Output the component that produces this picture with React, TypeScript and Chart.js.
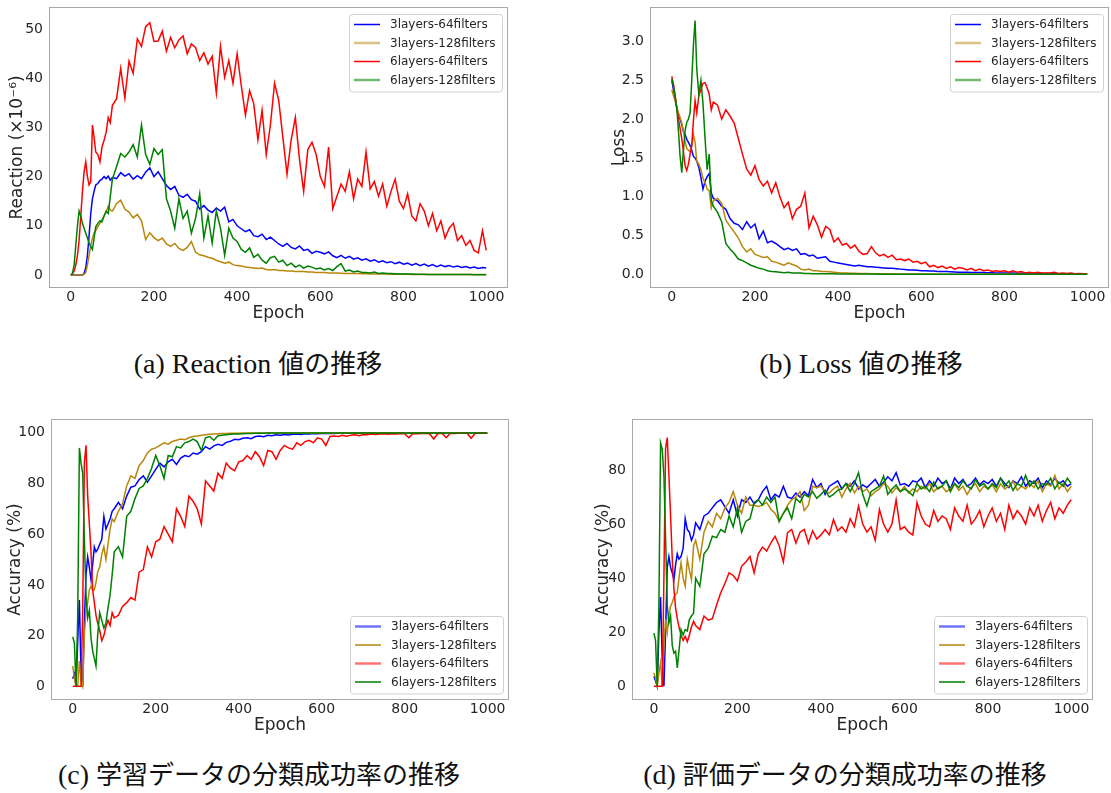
import { useEffect, useRef } from 'react';
import { Chart, registerables } from 'chart.js';

Chart.register(...registerables);
Chart.defaults.font.family = '"DejaVu Sans", sans-serif';

// ---------------- data ----------------
const EPOCHS = [
  0, 4, 8, 12, 16, 20, 24, 28, 32, 36, 40, 44, 48, 52, 56, 60, 65, 70, 75, 80, 85, 90, 95, 100,
  110, 120, 130, 140, 150, 160, 170, 180, 190, 200,
  210, 220, 230, 240, 250, 260, 270, 280, 290, 300,
  310, 320, 330, 340, 350, 360, 370, 380, 390, 400,
  410, 420, 430, 440, 450, 460, 470, 480, 490, 500,
  510, 520, 530, 540, 550, 560, 570, 580, 590, 600,
  610, 620, 630, 640, 650, 660, 670, 680, 690, 700,
  710, 720, 730, 740, 750, 760, 770, 780, 790, 800,
  810, 820, 830, 840, 850, 860, 870, 880, 890, 900,
  910, 920, 930, 940, 950, 960, 970, 980, 990, 999,
];

const SERIES_NAMES = ['3layers-64filters', '3layers-128filters', '6layers-64filters', '6layers-128filters'];

// (a) Reaction (x10^-6)
const REACT_3L64 = [
  0, 0, 0, 0, 0, 0, 0, 0, 0.3, 1.5, 4, 8, 12.5, 15.5, 17, 18.3, 18.6, 19.2, 19.5, 20, 19.6, 20.1, 19.3, 19.8,
  19.6, 20.8, 20.1, 20.6, 19.5, 20.2, 19.6, 20.9, 21.8, 20.0,
  21.0, 19.6, 18.2, 17.4, 18.0, 16.2, 15.8, 16.4, 15.3, 15.0,
  13.4, 14.1, 13.2, 12.7, 13.6, 13.0, 13.8, 10.8, 11.3, 10.0,
  9.4, 8.8, 9.2, 8.0, 7.8, 8.3, 7.2, 7.7, 7.0, 6.3,
  5.8, 6.4, 5.6, 5.3, 5.9, 5.0, 5.2, 4.4, 4.8, 4.6,
  4.3, 4.7, 3.9, 3.5, 4.0, 3.4, 3.8, 3.2, 3.5, 3.0,
  3.3, 2.8, 3.1, 2.6, 2.9, 2.5, 2.7, 2.3, 2.6, 2.2,
  2.4, 2.0, 2.3, 1.9, 2.2, 1.8, 2.1, 1.7, 2.0, 1.7,
  1.9, 1.6, 1.8, 1.5, 1.7, 1.4, 1.6, 1.3, 1.5, 1.4,
];
const REACT_3L128 = [
  0, 0, 0, 0, 0, 0, 0, 0, 0.1, 0.5, 2, 4, 6, 7.5, 8.5, 9, 9.8, 10.5, 11.2, 12, 12.8, 14, 13.2, 13,
  14.5, 15.2, 13.4, 12.8, 11.6, 12.3, 11, 7.2, 8.6, 7.6,
  7.0, 7.5, 6.3, 5.8, 6.4, 5.4, 5.0, 5.6, 6.8, 4.6,
  4.1, 3.9, 3.6, 3.4, 3.0, 2.7, 2.4, 2.6, 2.1, 1.9,
  1.8, 1.6, 1.5, 1.4, 1.3, 1.4, 1.1, 1.0, 1.1, 0.9,
  0.9, 0.8, 0.8, 0.7, 0.7, 0.7, 0.6, 0.6, 0.5, 0.5,
  0.5, 0.4, 0.4, 0.4, 0.35, 0.3, 0.3, 0.3, 0.3, 0.25,
  0.25, 0.2, 0.2, 0.2, 0.2, 0.2, 0.15, 0.15, 0.15, 0.15,
  0.15, 0.1, 0.1, 0.1, 0.1, 0.1, 0.1, 0.1, 0.1, 0.1,
  0.1, 0.1, 0.08, 0.08, 0.08, 0.08, 0.07, 0.07, 0.07, 0.07,
];
const REACT_6L64 = [
  0, 0.2, 0.8, 2, 4, 7, 12, 17, 21, 23, 20, 18.3, 19, 30.5, 28, 25, 24.5, 23, 26, 27.4, 29, 32, 31, 34.5,
  35.8, 42, 36, 43.5, 41, 48, 46.5, 50.5, 51.3, 47.5,
  47.6, 49.6, 45.5, 48.3, 46.2, 47.8, 48.6, 45.0, 47.0, 46.3,
  43.6, 45.2, 42.9, 44.5, 37.0, 46.5, 40.2, 43.6, 39.0, 45.0,
  38.5, 32.5, 37.5, 34.8, 27.5, 33.5, 24.5, 30.5, 39.0, 35.5,
  28.0, 20.5, 27.5, 32.0, 23.5, 17.0, 25.5, 27.0, 24.5, 20.0,
  18.0, 26.0, 13.5, 16.0, 18.5, 17.0, 21.0, 15.5, 19.5, 18.0,
  25.0, 17.5, 19.0, 16.0, 18.5, 14.0, 17.0, 19.5, 15.0, 13.5,
  16.5, 12.0, 11.0, 14.5, 13.0, 10.0, 12.5, 9.0, 11.0, 7.5,
  9.5, 10.5, 7.0, 8.0, 6.0, 7.0, 5.0, 4.5, 9.0, 5.0,
];
const REACT_6L128 = [
  0, 0.3, 2, 6, 10, 13, 12, 10.5, 9.5, 8.5, 7.5, 6.5, 5.8, 5.2, 7.5, 9.8, 10.5, 11, 10.8, 12, 13, 12.5, 16, 19.5,
  22, 24.7, 24, 25, 26.5, 24, 30.5, 24.5, 22.5, 25.7,
  24.5, 25.5, 15.5, 13, 9.5, 15.5, 11.5, 13, 8.5, 11.5,
  16.5, 7.5, 12, 6.5, 13, 9.5, 4, 9.5, 7.5, 6.8,
  5.2, 4.6, 5.5, 3.6, 4.2, 3.0, 2.4, 3.5, 3.8, 2.6,
  3.0, 1.9, 2.4, 1.6, 2.0, 1.4, 1.8, 1.6, 1.2, 1.4,
  1.0, 1.3, 0.9, 1.7, 2.3, 0.8, 1.0, 0.6, 0.8, 0.5,
  0.5, 0.4, 0.6, 0.3, 0.4, 0.3, 0.3, 0.25, 0.2, 0.2,
  0.2, 0.2, 0.15, 0.15, 0.15, 0.1, 0.1, 0.1, 0.1, 0.1,
  0.1, 0.08, 0.08, 0.08, 0.07, 0.07, 0.06, 0.06, 0.06, 0.05,
];

// (b) Loss
const LOSS_3L64 = [
  2.5, 2.38, 2.26, 2.14, 2.06, 2.0, 1.93, 1.84, 1.8, 1.74, 1.7, 1.66, 1.6, 1.52, 1.5, 1.46, 1.38, 1.25, 1.1, 1.2, 1.26, 1.3, 1.05, 0.98,
  0.95, 0.88, 0.84, 0.72, 0.66, 0.64, 0.58, 0.68, 0.6, 0.65,
  0.46, 0.56, 0.41, 0.43, 0.4, 0.36, 0.32, 0.34, 0.31, 0.33,
  0.26, 0.27, 0.24, 0.25, 0.21, 0.22, 0.23, 0.17, 0.16, 0.15,
  0.14, 0.13, 0.12, 0.11, 0.12, 0.11, 0.1, 0.1, 0.095, 0.09,
  0.085, 0.08, 0.08, 0.075, 0.07, 0.065, 0.06, 0.06, 0.055, 0.05,
  0.05, 0.045, 0.045, 0.04, 0.04, 0.038, 0.035, 0.033, 0.03, 0.03,
  0.03, 0.028, 0.027, 0.025, 0.025, 0.023, 0.022, 0.021, 0.02, 0.02,
  0.02, 0.019, 0.018, 0.017, 0.017, 0.016, 0.015, 0.015, 0.014, 0.014,
  0.013, 0.013, 0.012, 0.012, 0.012, 0.011, 0.011, 0.01, 0.01, 0.01,
];
const LOSS_3L128 = [
  2.38, 2.3, 2.24, 2.15, 2.08, 2.02, 1.95, 1.85, 1.72, 1.62, 1.6, 1.58, 1.66, 1.8, 1.7, 1.46, 1.42, 1.35, 1.24, 1.18, 1.1, 1.08, 0.86, 0.95,
  0.98, 0.92, 0.7, 0.62, 0.55, 0.47, 0.36, 0.29, 0.33, 0.26,
  0.24, 0.22, 0.23, 0.17, 0.16, 0.14, 0.12, 0.15, 0.13, 0.11,
  0.07, 0.06, 0.07, 0.05, 0.05, 0.04, 0.04, 0.035, 0.03, 0.025,
  0.02, 0.02, 0.018, 0.016, 0.015, 0.014, 0.013, 0.012, 0.011, 0.01,
  0.01, 0.009, 0.009, 0.008, 0.008, 0.008, 0.007, 0.007, 0.007, 0.006,
  0.006, 0.006, 0.006, 0.005, 0.005, 0.005, 0.005, 0.005, 0.005, 0.005,
  0.005, 0.004, 0.004, 0.004, 0.004, 0.004, 0.004, 0.004, 0.004, 0.004,
  0.004, 0.004, 0.003, 0.003, 0.003, 0.003, 0.003, 0.003, 0.003, 0.003,
  0.003, 0.003, 0.003, 0.003, 0.003, 0.003, 0.003, 0.003, 0.003, 0.003,
];
const LOSS_6L64 = [
  2.55, 2.45, 2.3, 2.14, 2.0, 1.88, 1.75, 1.58, 1.4, 1.34, 1.42, 1.55, 1.66, 1.98, 2.24, 2.08, 2.3, 2.38, 2.46, 2.47, 2.4, 2.32, 2.12, 2.22,
  2.18, 2.0, 2.12, 2.04, 1.95, 1.75, 1.55, 1.36, 1.28, 1.4,
  1.22, 1.14, 1.2, 1.05, 1.18, 1.0, 0.86, 0.93, 0.72, 0.84,
  0.88, 1.05, 0.6, 0.75, 0.64, 0.48, 0.62, 0.58, 0.42, 0.47,
  0.38, 0.4, 0.34, 0.38, 0.3, 0.26, 0.27, 0.36, 0.28, 0.24,
  0.26, 0.22, 0.25, 0.19, 0.2, 0.18, 0.2, 0.16, 0.17, 0.14,
  0.16, 0.1, 0.12, 0.09, 0.11, 0.08, 0.1, 0.07, 0.09, 0.08,
  0.06, 0.08, 0.05, 0.07, 0.05, 0.06, 0.04, 0.05, 0.04, 0.05,
  0.03, 0.05, 0.03, 0.04, 0.02, 0.03, 0.02, 0.03, 0.02, 0.02,
  0.02, 0.03, 0.015, 0.02, 0.015, 0.02, 0.01, 0.015, 0.01, 0.01,
];
const LOSS_6L128 = [
  2.52, 2.42, 2.3, 2.15, 1.85, 1.52, 1.31, 1.6, 1.85, 1.96, 2.0, 2.08, 2.5, 2.95, 3.27, 2.65, 2.32, 2.5, 2.2, 1.75, 1.35, 1.55, 0.95, 0.88,
  0.8, 0.68, 0.4, 0.33, 0.27, 0.2, 0.18, 0.15, 0.12, 0.1,
  0.08, 0.07, 0.05, 0.04, 0.035, 0.03, 0.025, 0.03, 0.02, 0.02,
  0.02, 0.015, 0.015, 0.012, 0.012, 0.01, 0.01, 0.01, 0.01, 0.008,
  0.008, 0.008, 0.007, 0.007, 0.007, 0.006, 0.006, 0.006, 0.006, 0.005,
  0.005, 0.005, 0.005, 0.005, 0.005, 0.004, 0.004, 0.004, 0.004, 0.004,
  0.004, 0.004, 0.004, 0.004, 0.003, 0.003, 0.003, 0.003, 0.003, 0.003,
  0.003, 0.003, 0.003, 0.003, 0.003, 0.003, 0.003, 0.003, 0.003, 0.003,
  0.003, 0.003, 0.003, 0.003, 0.003, 0.003, 0.003, 0.003, 0.003, 0.003,
  0.003, 0.003, 0.003, 0.003, 0.003, 0.003, 0.003, 0.003, 0.003, 0.003,
];

// (c) training accuracy (%)
const TRAIN_3L64 = [
  3, 5, 0, 18, 34, 5, 0, 25, 44, 51, 47, 42, 48, 55, 53, 54, 56, 58, 67, 62, 64, 66, 69, 70,
  72.5, 70, 75, 78.5, 79, 81.5, 83, 80.5, 83, 85.5,
  88, 86.5, 88.5, 89.5, 87.5, 90, 91, 90.5, 92, 91.5,
  92.5, 94.5, 93.5, 94.8, 95.4, 95, 96.2, 96.6, 97.4, 97.2,
  97.8, 98, 97.6, 98.5, 98.7, 98.4, 99, 98.8, 99.2, 99,
  99.3, 99.1, 99.4, 99.5, 99.3, 99.6, 99.5, 99.7, 99.6, 99.7,
  99.7, 99.8, 99.7, 99.8, 99.8, 99.8, 99.9, 99.8, 99.9, 99.9,
  99.9, 99.9, 99.9, 99.9, 99.9, 99.9, 99.9, 99.9, 99.9, 99.9,
  99.9, 99.9, 99.9, 99.9, 99.9, 99.9, 99.9, 99.9, 99.9, 99.9,
  99.9, 99.9, 99.9, 99.9, 99.9, 99.9, 99.9, 99.9, 99.9, 99.9,
];
const TRAIN_3L128 = [
  8, 3, 0, 0, 10, 2, 0, 20, 30, 33, 38, 39.5, 38, 38, 41, 45, 47, 52, 55, 50, 56, 62, 66, 65,
  69, 72, 79, 83, 82, 87, 89, 92, 93.5, 94,
  95, 96, 95.5, 96.5, 97, 97.5, 97.2, 98, 98.5, 98.7,
  99, 99.2, 99.4, 99.5, 99.6, 99.7, 99.7, 99.8, 99.8, 99.8,
  99.9, 99.9, 99.9, 99.9, 99.9, 99.9, 99.9, 99.9, 99.9, 99.9,
  99.9, 99.9, 99.9, 99.9, 99.9, 99.9, 99.9, 99.9, 99.9, 99.9,
  99.9, 99.9, 99.9, 99.9, 99.9, 99.9, 99.9, 99.9, 99.9, 99.9,
  99.9, 99.9, 99.9, 99.9, 99.9, 99.9, 99.9, 99.9, 99.9, 99.9,
  99.9, 99.9, 99.9, 99.9, 99.9, 99.9, 99.9, 99.9, 99.9, 99.9,
  99.9, 99.9, 99.9, 99.9, 99.9, 99.9, 99.9, 99.9, 99.9, 99.9,
];
const TRAIN_6L64 = [
  0, 0, 0, 0, 0, 0, 30, 88, 95, 75, 64, 53, 38, 33, 28, 25, 22, 18, 20, 23.5, 26, 24, 29, 27,
  28, 31.5, 33, 35, 34, 45, 46, 55, 51, 57,
  58, 63, 60, 57, 70, 67, 63, 75, 73, 70,
  64, 81, 79, 77, 84, 82, 88, 86, 85, 88.5,
  89, 91, 89.5, 92.5, 90.5, 87, 93, 92.5, 89.5, 93,
  95, 94, 93.5, 96, 95, 96.5, 97, 96, 98, 97.5,
  95, 98.5, 98.7, 98.5, 99, 98.6, 99, 99.2, 98.8, 99.3,
  99.2, 99.5, 99.3, 99.5, 99.6, 99.4, 99.6, 99.5, 99.7, 99.6,
  98, 99.7, 99.6, 99.7, 99.8, 99.6, 97.5, 99.7, 99.8, 98,
  99.8, 99.7, 99.8, 99.8, 99.9, 97.8, 99.8, 99.9, 99.8, 99.9,
];
const TRAIN_6L128 = [
  19.5, 17, 0, 28, 94, 88, 84, 58, 36, 27, 30, 19, 14, 11, 8, 20, 29, 26, 23, 25, 31, 36, 44, 53,
  55, 51, 67, 69, 74, 78, 79, 82, 86, 91,
  87, 82, 91, 90.5, 94.5, 94, 96, 96.5, 97.5, 96.5,
  93, 98, 98.5, 97, 98.8, 99, 99.2, 99.4, 99.5, 99.5,
  99.6, 99.7, 99.7, 99.8, 99.8, 99.8, 99.9, 99.9, 99.9, 99.9,
  99.9, 99.9, 99.9, 99.9, 99.9, 99.9, 99.9, 99.9, 99.9, 99.9,
  99.9, 99.9, 99.9, 99.9, 99.9, 99.9, 99.9, 99.9, 99.9, 99.9,
  99.9, 99.9, 99.9, 99.9, 99.9, 99.9, 99.9, 99.9, 99.9, 99.9,
  99.9, 99.9, 99.9, 99.9, 99.9, 99.9, 99.9, 99.9, 99.9, 99.9,
  99.9, 99.9, 99.9, 99.9, 99.9, 99.9, 99.9, 99.9, 99.9, 99.9,
];

// (d) evaluation accuracy (%)
const TEST_3L64 = [
  3.7, 2, 0, 20, 33, 10, 0, 20, 44, 48, 44, 42, 39.5, 45, 49, 47, 48, 51, 62, 58, 57, 54, 56, 60.5,
  58, 63, 64, 66, 68, 69, 66.5, 64, 69, 63,
  69, 68, 70, 67.5, 69, 72, 74, 69, 71, 70,
  74, 70, 69.5, 71.5, 70, 72, 70.5, 76.5, 73.5, 75,
  71, 74, 75, 76, 73, 75, 74, 76, 73, 74.5,
  73.5, 75, 76.5, 74, 75.5, 77.5, 76, 79, 74.5, 75,
  74, 76, 75.5, 77, 73.5, 76, 74, 77, 75, 76,
  73, 77, 75, 76.5, 74, 75, 77, 74.5, 76, 75,
  76.5, 74, 77, 75, 73.5, 76, 75, 77.5, 74, 76,
  75, 77, 73.5, 76, 74.5, 77, 75, 76, 74, 75,
];
const TEST_3L128 = [
  5, 3, 0, 5, 8.6, 0, 15, 24.7, 20, 26, 29.6, 31, 33, 34, 34.6, 40, 45.7, 40, 37, 47, 43, 39.5, 52, 54,
  47, 57, 61, 59, 64, 62, 66, 68, 72, 67,
  64, 70, 67, 67, 66.5, 67, 68, 65.5, 64, 61,
  64, 67, 69, 70, 72, 65, 67, 74, 73.5, 74,
  72, 71.5, 73, 74, 70, 73, 75, 71.5, 74, 72,
  73, 70.5, 72, 73, 75, 74, 71.5, 73.5, 72, 74,
  71.5, 73, 72, 74, 73, 75, 72, 73.5, 74, 72,
  73, 75, 72.5, 74, 71, 73.5, 75, 72, 74, 73,
  74.5, 72, 75, 73, 74, 76, 72.5, 74, 73, 75,
  73.5, 76, 72, 75, 74, 78, 73, 75, 72, 74,
];
const TEST_6L64 = [
  0, 0, 0, 0, 0, 0, 40, 88, 92, 78, 63, 47, 36, 29, 25, 22, 19, 17, 18.5, 16.5, 19, 22, 24, 22.5,
  21, 26, 24.5, 25, 30, 34.6, 38, 42, 41, 39,
  44.4, 46, 48, 42, 49, 51.5, 50, 53, 55.5, 52,
  46, 56.8, 58, 53, 57, 58, 53, 57.5, 54.5, 56,
  58, 56, 61.7, 57.5, 59, 57, 62, 59, 66.7, 60,
  57, 59, 54, 65.4, 60, 57, 60, 69, 58, 59,
  57, 56, 68, 63, 60, 59, 65, 61, 63, 62,
  58, 66, 63, 61, 67, 60, 62, 65, 59, 63,
  66, 61, 64, 58, 67, 62, 65, 63, 60, 66,
  63, 67, 61, 65, 68, 62, 66, 64, 67, 69,
];
const TEST_6L128 = [
  19.7, 17, 0, 30, 90, 87.6, 78, 55, 30, 23.5, 26, 15, 12.3, 13, 6.8, 13, 21, 19, 21, 20.5, 24.7, 26, 27, 40,
  37, 49, 51, 55.5, 55, 58, 57, 63, 59, 66,
  57, 61, 62, 68, 69, 67, 70, 68, 70, 61,
  64, 66, 62, 69.5, 68, 71, 70, 72, 69.5, 71,
  72.5, 70, 71, 72.5, 73, 75, 72, 75, 79, 71,
  66.7, 72, 73, 74, 77.8, 71, 73, 74.5, 72, 73,
  72, 70.5, 75, 73, 74, 72, 75.5, 73, 74, 76,
  72, 75, 73.5, 76, 74, 73, 76.5, 74, 75, 73,
  75, 73.5, 77, 74, 76, 72.5, 75, 74, 78, 74,
  76, 73, 75, 74.5, 77, 73, 75.5, 74, 77, 75,
];

const X_TICKS = [0, 200, 400, 600, 800, 1000];
const REACT_TICKS = [0, 10, 20, 30, 40, 50];
const LOSS_TICKS = [0, 0.5, 1, 1.5, 2, 2.5, 3];
const TRAIN_TICKS = [0, 20, 40, 60, 80, 100];
const TEST_TICKS = [0, 20, 40, 60, 80];

// ---------------- styles ----------------
const LINE_COLORS = ['#0000ff', '#b8860b', '#ff0000', '#008000'];
const LEGEND_TOP = [
  { color: '#0000ff', width: 1.5 },
  { color: 'rgba(184,134,11,0.5)', width: 2.5 },
  { color: '#ff0000', width: 1.5 },
  { color: 'rgba(0,128,0,0.55)', width: 2.5 },
];
const LEGEND_BOTTOM = [
  { color: 'rgba(0,0,255,0.55)', width: 2.5 },
  { color: '#b8860b', width: 1.5 },
  { color: 'rgba(255,0,0,0.55)', width: 2.5 },
  { color: '#008000', width: 1.5 },
];
const TEXT_COLOR = '#262626';

type PanelProps = {
  left: number; top: number; width: number; height: number;
  pad: { left: number; top: number; right: number; bottom: number };
  yWidth: number; xHeight: number;
  xMin: number; xMax: number; yMin: number; yMax: number;
  yTicks: number[]; yDecimals: number; yTitle: string;
  series: number[][];
  legendAt: 'top' | 'bottom';
  legendStyle: { color: string; width: number }[];
};

function Panel(p: PanelProps) {
  const ref = useRef<HTMLCanvasElement>(null);
  useEffect(() => {
    const framePlugin = {
      id: 'frame',
      afterDatasetsDraw(chart: any) {
        const { ctx, chartArea: a } = chart;
        ctx.save();
        ctx.strokeStyle = '#a8a8a8';
        ctx.lineWidth = 1;
        ctx.strokeRect(Math.round(a.left) - 0.5, Math.round(a.top) - 0.5, Math.round(a.right - a.left) + 1, Math.round(a.bottom - a.top) + 1);
        ctx.restore();
      },
    };
    const legendPlugin = {
      id: 'boxLegend',
      afterDraw(chart: any) {
        const { ctx, chartArea: a } = chart;
        const w = 153, h = 77.5;
        const x = Math.round(a.right - 5 - w) + 0.5;
        const y = Math.round(p.legendAt === 'top' ? a.top + 6 : a.bottom - 6 - h) + 0.5;
        ctx.save();
        ctx.beginPath();
        ctx.roundRect(x, y, w, h, 3);
        ctx.fillStyle = 'rgba(255,255,255,0.85)';
        ctx.fill();
        ctx.strokeStyle = '#d0d0d0';
        ctx.lineWidth = 1;
        ctx.stroke();
        ctx.font = '12px "DejaVu Sans"';
        ctx.textBaseline = 'middle';
        SERIES_NAMES.forEach((name, i) => {
          const cy = y + 10 + i * 18.5;
          const st = p.legendStyle[i];
          ctx.strokeStyle = st.color;
          ctx.lineWidth = st.width;
          ctx.beginPath();
          ctx.moveTo(x + 4.5, cy);
          ctx.lineTo(x + 30.5, cy);
          ctx.stroke();
          ctx.fillStyle = TEXT_COLOR;
          ctx.fillText(name, x + 40.5, cy + 0.5);
        });
        ctx.restore();
      },
    };
    const chart = new Chart(ref.current!, {
      type: 'line',
      data: {
        datasets: p.series.map((s, i) => ({
          label: SERIES_NAMES[i],
          data: EPOCHS.map((e, j) => ({ x: e, y: s[j] })),
          borderColor: LINE_COLORS[i],
          borderWidth: 1.5,
          pointRadius: 0,
          tension: 0,
          fill: false,
          order: 3 - i,
        })),
      },
      options: {
        responsive: false,
        animation: false,
        devicePixelRatio: 1,
        layout: { padding: p.pad },
        plugins: { legend: { display: false }, tooltip: { enabled: false } },
        scales: {
          x: {
            type: 'linear',
            min: p.xMin,
            max: p.xMax,
            afterBuildTicks: (s: any) => { s.ticks = X_TICKS.map((v) => ({ value: v })); },
            afterFit: (s: any) => { s.height = p.xHeight; s.paddingLeft = 0; s.paddingRight = 0; },
            grid: { display: false, drawTicks: false },
            border: { display: false },
            ticks: { padding: 2, font: { size: 14 }, color: TEXT_COLOR, maxRotation: 0, callback: (v: any) => String(v) },
            title: { display: true, text: 'Epoch', font: { size: 17 }, color: TEXT_COLOR, padding: 0 },
          },
          y: {
            type: 'linear',
            min: p.yMin,
            max: p.yMax,
            afterBuildTicks: (s: any) => { s.ticks = p.yTicks.map((v) => ({ value: v })); },
            afterFit: (s: any) => { s.width = p.yWidth; s.paddingTop = 0; s.paddingBottom = 0; },
            grid: { display: false, drawTicks: false },
            border: { display: false },
            ticks: { padding: 7, font: { size: 14 }, color: TEXT_COLOR, callback: (v: any) => Number(v).toFixed(p.yDecimals) },
            title: { display: true, text: p.yTitle, font: { size: 17 }, color: TEXT_COLOR, padding: 0 },
          },
        },
      },
      plugins: [framePlugin, legendPlugin],
    } as any);
    return () => chart.destroy();
  }, []);
  return (
    <canvas
      ref={ref}
      width={p.width}
      height={p.height}
      style={{ position: 'absolute', left: p.left, top: p.top, width: p.width, height: p.height }}
    />
  );
}

function Caption({ cx, cy, latin, cjk }: { cx: number; cy: number; latin: string; cjk: string }) {
  return (
    <div
      style={{
        position: 'absolute', left: cx - 300, top: cy - 17, width: 600, height: 34, lineHeight: '34px',
        textAlign: 'center', fontSize: 28, color: '#111',
        fontFamily: '"Liberation Serif", "Noto Sans CJK JP", serif', whiteSpace: 'nowrap',
      }}
    >
      {latin}
      <span style={{ fontSize: 26, fontFamily: '"Noto Sans CJK JP", sans-serif' }}>{cjk}</span>
    </div>
  );
}

export default function App() {
  return (
    <div style={{ position: 'fixed', left: 0, top: 0, width: 1111, height: 793, background: '#fff', overflow: 'hidden' }}>
      <Panel
        left={0} top={0} width={520} height={325}
        pad={{ left: 7, top: 8, right: 13, bottom: 1 }} yWidth={43} xHeight={37}
        xMin={-50} xMax={1049} yMin={-2.45} yMax={54.3}
        yTicks={REACT_TICKS} yDecimals={0} yTitle={'Reaction (×10⁻⁶)'}
        series={[REACT_3L64, REACT_3L128, REACT_6L64, REACT_6L128]}
        legendAt="top" legendStyle={LEGEND_TOP}
      />
      <Panel
        left={600} top={0} width={511} height={325}
        pad={{ left: 9, top: 8, right: 3, bottom: 1 }} yWidth={42} xHeight={37}
        xMin={-50} xMax={1049} yMin={-0.16} yMax={3.43}
        yTicks={LOSS_TICKS} yDecimals={1} yTitle={'Loss'}
        series={[LOSS_3L64, LOSS_3L128, LOSS_6L64, LOSS_6L128]}
        legendAt="top" legendStyle={LEGEND_TOP}
      />
      <Panel
        left={0} top={410} width={520} height={328}
        pad={{ left: 5, top: 10, right: 12, bottom: 2 }} yWidth={47} xHeight={37}
        xMin={-50} xMax={1049} yMin={-5} yMax={105}
        yTicks={TRAIN_TICKS} yDecimals={0} yTitle={'Accuracy (%)'}
        series={[TRAIN_3L64, TRAIN_3L128, TRAIN_6L64, TRAIN_6L128]}
        legendAt="bottom" legendStyle={LEGEND_BOTTOM}
      />
      <Panel
        left={585} top={410} width={526} height={328}
        pad={{ left: 8, top: 10, right: 19, bottom: 2 }} yWidth={40} xHeight={37}
        xMin={-50} xMax={1049} yMin={-4.69} yMax={98.5}
        yTicks={TEST_TICKS} yDecimals={0} yTitle={'Accuracy (%)'}
        series={[TEST_3L64, TEST_3L128, TEST_6L64, TEST_6L128]}
        legendAt="bottom" legendStyle={LEGEND_BOTTOM}
      />
      <Caption cx={258} cy={362} latin={'(a) Reaction '} cjk={'値の推移'} />
      <Caption cx={861} cy={362} latin={'(b) Loss '} cjk={'値の推移'} />
      <Caption cx={259} cy={773} latin={'(c) '} cjk={'学習データの分類成功率の推移'} />
      <Caption cx={845} cy={773} latin={'(d) '} cjk={'評価データの分類成功率の推移'} />
    </div>
  );
}
